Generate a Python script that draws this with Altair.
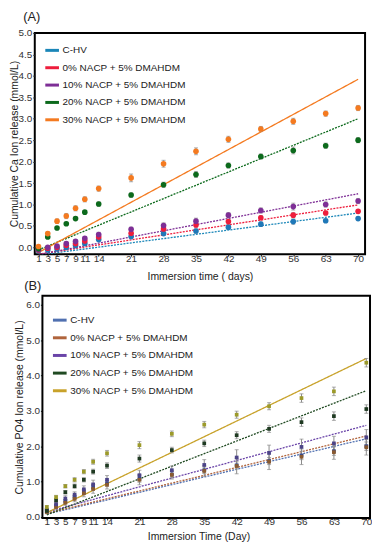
import altair as alt
import pandas as pd

# ---------------- data ----------------
days = [1, 3, 5, 7, 9, 11, 14, 21, 28, 35, 42, 49, 56, 63, 70]
series = ["C-HV", "\u00a00% NACP + 5% DMAHDM", "10% NACP + 5% DMAHDM",
          "20% NACP + 5% DMAHDM", "30% NACP + 5% DMAHDM"]
trend_days = [1, 70]

# Panel A: cumulative Ca ion release (mmol/L)
ca_chv = [-0.08, -0.06, -0.04, 0.00, 0.04, 0.09, 0.18, 0.25, 0.32, 0.38, 0.47, 0.54, 0.60, 0.62, 0.67]
ca_0 = [-0.06, -0.02, 0.00, 0.05, 0.09, 0.15, 0.24, 0.33, 0.43, 0.52, 0.60, 0.69, 0.75, 0.80, 0.84]
ca_10 = [-0.05, 0.00, 0.03, 0.09, 0.14, 0.21, 0.30, 0.42, 0.51, 0.61, 0.75, 0.86, 0.95, 1.00, 1.08]
ca_20 = [-0.03, 0.24, 0.45, 0.55, 0.67, 0.82, 1.01, 1.22, 1.46, 1.70, 1.91, 2.12, 2.26, 2.37, 2.50]
ca_30 = [0.02, 0.32, 0.61, 0.73, 0.91, 1.12, 1.37, 1.62, 1.95, 2.24, 2.52, 2.76, 2.94, 3.12, 3.25]
ca_err_small = [0.02, 0.02, 0.03, 0.03, 0.03, 0.03, 0.04, 0.04, 0.04, 0.05, 0.05, 0.05, 0.06, 0.04, 0.04]
ca_err_mid = [0.02, 0.03, 0.03, 0.04, 0.04, 0.04, 0.05, 0.05, 0.06, 0.07, 0.06, 0.06, 0.08, 0.06, 0.06]
ca_err_big = [0.03, 0.04, 0.05, 0.06, 0.06, 0.06, 0.06, 0.09, 0.08, 0.08, 0.07, 0.06, 0.07, 0.06, 0.06]
ca_trend_start = [-0.18, -0.16, -0.17, -0.06, -0.12]
ca_trend_end = [0.80, 0.99, 1.25, 3.00, 3.92]

# Panel B: cumulative PO4 ion release (mmol/L)
po4_chv = [0.16, 0.32, 0.44, 0.56, 0.70, 0.84, 0.95, 1.08, 1.20, 1.32, 1.46, 1.58, 1.74, 1.86, 2.00]
po4_0 = [0.14, 0.28, 0.40, 0.51, 0.67, 0.79, 0.91, 1.05, 1.19, 1.30, 1.44, 1.56, 1.70, 1.83, 1.97]
po4_10 = [0.20, 0.36, 0.52, 0.63, 0.78, 0.92, 1.05, 1.18, 1.32, 1.47, 1.68, 1.81, 1.98, 2.08, 2.25]
po4_20 = [0.17, 0.47, 0.70, 0.87, 1.05, 1.28, 1.45, 1.65, 1.89, 2.08, 2.31, 2.49, 2.68, 2.85, 3.05]
po4_30 = [0.28, 0.56, 0.87, 1.05, 1.28, 1.56, 1.80, 2.03, 2.35, 2.61, 2.89, 3.13, 3.36, 3.55, 4.36]
po4_err_small = [0.04, 0.05, 0.05, 0.06, 0.06, 0.07, 0.08, 0.10, 0.08, 0.09, 0.10, 0.10, 0.12, 0.12, 0.12]
po4_err_big = [0.05, 0.06, 0.08, 0.08, 0.10, 0.12, 0.12, 0.14, 0.12, 0.15, 0.22, 0.22, 0.22, 0.20, 0.22]
po4_trend_start = [0.08, 0.10, 0.14, 0.06, 0.12]
po4_trend_end = [2.21, 2.29, 2.59, 3.57, 4.48]

ca_ticks = [0.0, 0.5, 1.0, 1.5, 2.0, 2.5, 3.0, 3.5, 4.0, 4.5, 5.0]
po4_ticks = [0.0, 1.0, 2.0, 3.0, 4.0, 5.0, 6.0]
panel_labels = ["(A)", "(B)"]

# styles
a_point_colors = ["#1f78b8", "#ee1d3c", "#7e2f96", "#0c6a1c", "#f47a20"]
a_legend_colors = ["#1a86b8", "#ee1d3c", "#7e2f96", "#0c6a1c", "#f47a20"]
b_point_colors = ["#3a4a8a", "#8a5a30", "#4c4488", "#1f3a22", "#9c9a2a"]
b_line_colors = ["#5070b0", "#b0643c", "#6a44a8", "#204a22", "#c8a22a"]
dash = [[2, 1.2], [2, 1.2], [2, 1.2], [2, 1.2], [1, 0]]
FONT = "Liberation Sans"
PAD0 = {"left": 0, "top": 0, "right": 0, "bottom": 0}

# panel B frame starts a little to the right of the shared left edge
B_XDOM = [-1.6, 70.8]
B_YDOM = [-0.03, 6.25]
B_W = 338
B_H = 224
B_FRAME_DAY = 0.05
B_AXIS_SHIFT = -(B_FRAME_DAY - B_XDOM[0]) * B_W / (B_XDOM[1] - B_XDOM[0])


def long_points(vals, errs):
    rows = []
    for s, v, e in zip(series, vals, errs):
        for d, vi, ei in zip(days, v, e):
            rows.append({"day": d, "value": vi, "lo": vi - ei, "hi": vi + ei, "series": s})
    return pd.DataFrame(rows)


def long_trend(starts, ends):
    rows = []
    for s, a, b in zip(series, starts, ends):
        rows.append({"day": trend_days[0], "value": a, "series": s})
        rows.append({"day": trend_days[1], "value": b, "series": s})
    return pd.DataFrame(rows)


def panel(pts, trend, xdom, ydom, yvals, xtitle, ytitle, w, h, pcol, lcol,
          psize, pshape, legend_xy, ytitlepad, xtitlepad, xtitle_x=None, yoffset=0,
          frame_day=None):
    xaxis_kw = dict(values=days, title=xtitle, labelPadding=-3, tickSize=2,
                    titlePadding=xtitlepad, grid=False, labelOverlap=False)
    if xtitle_x is not None:
        xaxis_kw["titleX"] = xtitle_x
    xscale = alt.Scale(domain=xdom, nice=False, zero=False)
    yscale = alt.Scale(domain=ydom, nice=False, zero=False)
    xaxis = alt.Axis(**xaxis_kw)
    yaxis = alt.Axis(values=yvals, format=".1f", title=ytitle, grid=False,
                     labelOverlap=False, labelPadding=1, tickSize=2,
                     titlePadding=ytitlepad, offset=yoffset)
    x = alt.X("day:Q", scale=xscale, axis=xaxis)

    def Y(field):
        return alt.Y(field, scale=yscale, axis=yaxis)

    lines = alt.Chart(trend).mark_line(strokeWidth=1.3, clip=True).encode(
        x=x, y=Y("value:Q"),
        color=alt.Color("series:N", scale=alt.Scale(domain=series, range=lcol),
                        sort=series,
                        legend=alt.Legend(orient="none", legendX=legend_xy[0], legendY=legend_xy[1],
                                          title=None, symbolType="stroke", symbolStrokeWidth=3,
                                          symbolSize=190, labelFontSize=10, labelFont=FONT,
                                          rowPadding=legend_xy[2], labelOffset=2, padding=0,
                                          labelColor="#222", labelLimit=300)),
        strokeDash=alt.StrokeDash("series:N", scale=alt.Scale(domain=series, range=dash), legend=None),
        detail="series:N",
    )
    rules = alt.Chart(pts).mark_rule(color="#8a8a8a", strokeWidth=1).encode(
        x=x, y=Y("lo:Q"), y2="hi:Q")
    caps_lo = alt.Chart(pts).mark_tick(color="#8a8a8a", orient="horizontal", size=4, thickness=1).encode(
        x=x, y=Y("lo:Q"))
    caps_hi = alt.Chart(pts).mark_tick(color="#8a8a8a", orient="horizontal", size=4, thickness=1).encode(
        x=x, y=Y("hi:Q"))
    points = alt.Chart(pts).mark_point(filled=True, opacity=1, size=psize, shape=pshape).encode(
        x=x, y=Y("value:Q"),
        color=alt.Color("series:N", scale=alt.Scale(domain=series, range=pcol), legend=None),
    )
    layers = [lines, rules, caps_lo, caps_hi, points]
    if frame_day is not None:
        frame = alt.Chart(pd.DataFrame({"f": [0]})).mark_rect(
            filled=False, stroke="black", strokeWidth=2).encode(
            x=alt.XDatum(frame_day, scale=xscale, axis=xaxis),
            x2=alt.datum(xdom[1]),
            y=alt.YDatum(ydom[1], scale=yscale, axis=yaxis),
            y2=alt.datum(ydom[0]),
        )
        layers.append(frame)
    out = alt.layer(*layers).resolve_scale(color="independent").properties(width=w, height=h)
    if frame_day is not None:
        out = out.properties(view=alt.ViewBackground(stroke=None))
    return out


ptsA = long_points([ca_chv, ca_0, ca_10, ca_20, ca_30],
                   [ca_err_small, ca_err_small, ca_err_mid, ca_err_mid, ca_err_big])
trA = long_trend(ca_trend_start, ca_trend_end)
ptsB = long_points([po4_chv, po4_0, po4_10, po4_20, po4_30],
                   [po4_err_small, po4_err_big, po4_err_big, po4_err_small, po4_err_small])
trB = long_trend(po4_trend_start, po4_trend_end)

A = panel(ptsA, trA, [0.2, 71.5], [-0.16, 5.0], ca_ticks,
          "Immersion time ( days)", "Cumulative Ca Ion release (mmol/L)",
          333, 223, a_point_colors, a_legend_colors, 32, "circle", (9, 9, 2.5), -1, 9)
labA = alt.Chart(pd.DataFrame({"t": panel_labels[:1]})).mark_text(
    fontSize=13, font=FONT, color="#222").encode(
    text="t:N", x=alt.value(-3), y=alt.value(-16))
labB = alt.Chart(pd.DataFrame({"t": panel_labels[1:]})).mark_text(
    fontSize=13, font=FONT, color="#222").encode(
    text="t:N", x=alt.value(-2), y=alt.value(255))
A = alt.layer(A, labA, labB)

B = panel(ptsB, trB, B_XDOM, B_YDOM, po4_ticks,
          "Immersion Time (Day)", "Cumulative PO4  Ion release (mmol/L)",
          B_W, B_H, b_point_colors, b_line_colors, 14, "square",
          (9 - B_AXIS_SHIFT, 16, 2.8), 1, 5, 165, yoffset=B_AXIS_SHIFT,
          frame_day=B_FRAME_DAY)

chart = alt.concat(A, B, columns=1, spacing=1, align="none").resolve_scale(
    color="independent", strokeDash="independent"
).properties(padding=PAD0, autosize=alt.AutoSizeParams(type="pad")).configure(
    font=FONT, padding=PAD0
).configure_view(
    stroke="black", strokeWidth=2
).configure_axis(
    labelFontSize=10, labelFont=FONT, labelColor="#333", titleFontSize=10.5, titleFont=FONT,
    titleFontWeight="normal", titleColor="#222", tickColor="#222", domain=False,
    labelOverlap=False
)

chart.save("out.html", embed_options={"renderer": "svg", "actions": False, "padding": 0})
